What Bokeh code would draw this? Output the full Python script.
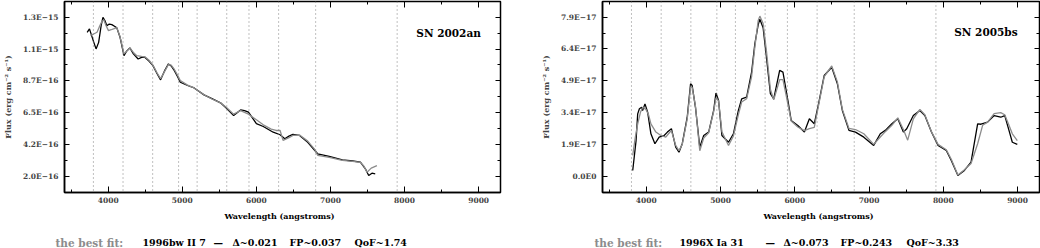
import numpy as np
from bokeh.plotting import figure
from bokeh.layouts import row, column
from bokeh.models import Range1d, FixedTicker, LinearAxis, Span, Label
from bokeh.embed import file_html
from bokeh.resources import INLINE

# ---------------- data ----------------
# SN 2002an (flux in units of 1e-16 erg cm^-2 s^-1 A^-1)
wl_2002an = [3716, 3747, 3800, 3836, 3871, 3905, 3929, 3955, 3982, 4015, 4049, 4085, 4116, 4160,
             4213, 4250, 4293, 4340, 4404, 4450, 4493, 4550, 4604, 4660, 4707, 4760, 4813, 4850,
             4893, 4935, 4973, 5071, 5160, 5293, 5400, 5516, 5600, 5693, 5787, 5840, 5893, 6000,
             6093, 6227, 6320, 6383, 6440, 6493, 6583, 6693, 6827, 6983, 7160, 7300, 7404, 7471,
             7516, 7560, 7604]
flux_2002an = [12.12, 12.36, 11.5, 10.95, 11.41, 12.6, 13.17, 12.95, 12.59, 12.7, 12.66, 12.55, 12.43, 11.77,
               10.48, 10.8, 11.02, 10.6, 10.24, 10.35, 10.36, 10.1, 9.77, 9.2, 8.77, 9.4, 9.89, 9.75,
               9.42, 9.0, 8.6, 8.37, 8.2, 7.71, 7.45, 7.15, 6.75, 6.25, 6.65, 6.6, 6.49, 5.69,
               5.48, 5.08, 4.9, 4.61, 4.8, 4.92, 4.85, 4.37, 3.56, 3.37, 3.13, 3.05, 2.97, 2.5,
               2.03, 2.19, 2.15]
wl_1996bw = [3760, 3804, 3849, 3880, 3916, 3940, 3970, 4004, 4040, 4071, 4116, 4160, 4213, 4260,
             4293, 4340, 4382, 4450, 4500, 4550, 4604, 4660, 4707, 4760, 4813, 4850, 4893, 4935,
             4973, 5071, 5160, 5293, 5400, 5516, 5600, 5693, 5787, 5893, 6000, 6093, 6200, 6267,
             6320, 6360, 6440, 6493, 6583, 6693, 6790, 6827, 6983, 7160, 7300, 7404, 7450, 7493,
             7550, 7627]
flux_1996bw = [11.9, 12.0, 12.12, 12.5, 12.89, 13.0, 12.6, 12.24, 12.3, 12.36, 12.45, 11.8, 10.6, 10.85,
               11.0, 10.7, 10.48, 10.42, 10.38, 10.15, 9.8, 9.25, 8.85, 9.35, 9.85, 9.8, 9.5, 9.1,
               8.72, 8.4, 8.2, 7.72, 7.42, 7.15, 6.8, 6.35, 6.6, 6.35, 5.95, 5.6, 5.3, 5.2,
               5.2, 4.5, 4.7, 4.85, 4.88, 4.45, 3.85, 3.45, 3.3, 3.1, 3.02, 2.95, 2.7, 2.26,
               2.55, 2.73]

# SN 2005bs (flux in units of 1e-17)
wl_2005bs = [3817, 3862, 3884, 3907, 3937, 3950, 3982, 4018, 4062, 4116, 4173, 4240, 4284, 4338,
             4396, 4440, 4484, 4551, 4596, 4617, 4662, 4720, 4773, 4840, 4907, 4938, 4973, 5018,
             5107, 5173, 5240, 5284, 5351, 5418, 5462, 5507, 5529, 5573, 5618, 5671, 5716, 5796,
             5840, 5907, 5951, 6040, 6129, 6196, 6262, 6329, 6396, 6497, 6573, 6640, 6729, 6817,
             6929, 7062, 7151, 7218, 7307, 7387, 7462, 7507, 7596, 7684, 7751, 7840, 7929, 8040,
             8107, 8196, 8284, 8373, 8462, 8507, 8596, 8684, 8773, 8827, 8884, 8929, 8996]
flux_2005bs = [0.67, 2.08, 3.34, 3.58, 3.65, 3.5, 3.81, 3.42, 2.4, 1.93, 2.24, 2.32, 2.48, 2.64,
               1.77, 1.53, 1.93, 3.18, 4.76, 4.68, 3.65, 1.77, 2.32, 2.48, 3.5, 4.32, 3.97, 2.32,
               2.0, 2.4, 3.5, 4.05, 4.13, 5.31, 6.65, 7.55, 7.8, 7.4, 6.01, 4.29, 4.05, 5.39,
               5.31, 3.97, 3.03, 2.79, 2.48, 3.11, 2.87, 3.97, 5.15, 5.54, 4.76, 3.5, 2.56, 2.48,
               2.24, 1.85, 2.4, 2.56, 2.87, 3.11, 2.48, 2.64, 3.26, 3.5, 3.26, 2.48, 1.85, 1.61,
               1.14, 0.43, 0.67, 1.06, 2.87, 2.85, 2.95, 3.26, 3.18, 3.26, 2.56, 2.0, 1.9]
wl_1996X = [3817, 3850, 3884, 3920, 3951, 3995, 4030, 4062, 4129, 4196, 4262, 4310, 4338, 4396,
            4440, 4484, 4551, 4596, 4617, 4662, 4720, 4773, 4840, 4907, 4938, 4973, 5018, 5107,
            5173, 5240, 5284, 5351, 5418, 5462, 5507, 5529, 5573, 5618, 5671, 5716, 5796, 5840,
            5907, 5951, 6040, 6129, 6196, 6262, 6329, 6396, 6497, 6573, 6640, 6729, 6817, 6929,
            7062, 7151, 7218, 7307, 7387, 7462, 7520, 7596, 7684, 7751, 7840, 7929, 8040, 8107,
            8196, 8284, 8373, 8462, 8529, 8596, 8684, 8773, 8827, 8884, 8929, 8996]
flux_1996X = [1.38, 2.2, 2.87, 3.4, 3.65, 3.55, 3.3, 2.87, 2.48, 2.32, 2.24, 2.45, 2.55, 1.85,
              1.6, 1.9, 3.1, 4.6, 4.6, 3.7, 1.6, 2.2, 2.45, 3.45, 4.1, 3.95, 2.5, 1.85,
              2.3, 3.3, 3.9, 4.05, 5.1, 6.5, 7.75, 7.95, 7.6, 6.3, 4.5, 4.0, 4.95, 4.95,
              3.8, 3.0, 2.72, 2.55, 2.64, 2.7, 3.9, 5.1, 5.6, 4.85, 3.55, 2.65, 2.6, 2.4,
              1.9, 2.25, 2.5, 2.8, 3.15, 2.6, 2.1, 3.1, 3.55, 3.3, 2.5, 1.9, 1.65, 1.2,
              0.45, 0.7, 1.0, 1.93, 2.8, 2.95, 3.35, 3.4, 3.3, 2.8, 2.4, 2.08]

# marker wavelengths (dotted lines)
line_wavelengths = [3800, 4200, 4600, 4950, 5200, 5600, 5900, 6300, 6800, 7900]

x_ticks = [4000, 5000, 6000, 7000, 8000, 9000]
x_minor = [3500, 4500, 5500, 6500, 7500, 8500]

y_ticks_a = [1.98, 4.22, 6.46, 8.70, 10.94, 13.18]
y_labels_a = ["2.0E\u221216", "4.2E\u221216", "6.5E\u221216", "8.7E\u221216", "1.1E\u221215", "1.3E\u221215"]
y_minor_a = [0.86, 3.10, 5.34, 7.58, 9.82, 12.06]

y_ticks_b = [0.4, 1.9, 3.4, 4.9, 6.4, 7.9]
y_labels_b = ["0.0E0", "1.9E\u221217", "3.4E\u221217", "4.9E\u221217", "6.4E\u221217", "7.9E\u221217"]
y_minor_b = [-0.35, 1.15, 2.65, 4.15, 5.65, 7.15]

fit_a = ["1996bw II 7", "\u2014", "\u0394~0.021", "FP~0.037", "QoF~1.74"]
fit_b = ["1996X Ia 31", "\u2014", "\u0394~0.073", "FP~0.243", "QoF~3.33"]

X_TITLE = "Wavelength (angstroms)"
Y_TITLE = "Flux (erg cm\u207b\u00b2 s\u207b\u00b9)"

FONT = "DejaVu Serif"
GRAY = "#8c8c8c"
TOP_H = 206
TEXT_H = 42
BL = 59   # left border of each spectrum panel


def panel(width, min_right, obs, tmp, yr, yt, yl, ym, name, name_xy):
    p = figure(width=width, height=TOP_H, output_backend="svg", toolbar_location=None,
               x_range=Range1d(3410, 9295), y_range=Range1d(*yr),
               min_border_left=BL, min_border_right=min_right,
               min_border_top=1, min_border_bottom=14,
               y_axis_label=Y_TITLE)
    p.grid.visible = False
    p.outline_line_color = "black"
    p.outline_line_width = 1.5

    xt = FixedTicker(ticks=x_ticks, minor_ticks=x_minor)
    ytk = FixedTicker(ticks=yt, minor_ticks=ym)

    for ax, tk in ((p.xaxis[0], xt), (p.yaxis[0], ytk)):
        ax.ticker = tk
        ax.major_tick_in = 5
        ax.major_tick_out = 0
        ax.minor_tick_in = 3
        ax.minor_tick_out = 0
        ax.axis_line_width = 1.5
        ax.major_label_text_font = FONT
        ax.major_label_text_font_style = "bold"
        ax.major_label_text_font_size = "7.5px"
        ax.axis_label_text_font = FONT
        ax.axis_label_text_font_style = "bold"
        ax.axis_label_text_font_size = "8px"
    p.xaxis[0].major_tick_in = 6
    p.xaxis[0].major_label_standoff = 4
    p.yaxis[0].major_label_standoff = 6
    p.yaxis[0].axis_label_standoff = 7
    p.yaxis[0].major_label_overrides = {v: s for v, s in zip(yt, yl)}

    # mirrored ticks on top and right (labels not drawn)
    for loc, tk in (("above", xt), ("right", ytk)):
        ax = LinearAxis(ticker=tk, major_tick_in=6 if loc == "above" else 5, major_tick_out=0,
                        minor_tick_in=3, minor_tick_out=0, major_label_text_font_size="1px",
                        major_label_text_color=None, major_label_standoff=0,
                        axis_line_color=None)
        p.add_layout(ax, loc)

    for w in line_wavelengths:
        p.add_layout(Span(location=w, dimension="height", line_color="#808080",
                          line_dash="1 3", line_width=1))

    p.line(obs[0], obs[1], line_color="black", line_width=1.3)
    p.line(tmp[0], tmp[1], line_color=GRAY, line_width=1.3)

    p.add_layout(Label(x=name_xy[0], y=name_xy[1], text=name, text_align="right",
                       text_baseline="middle", text_font=FONT, text_font_style="bold",
                       text_font_size="10.5px", text_color="black"))
    return p


def text_row(width, title_x, fit, fit_x):
    q = figure(width=width, height=TEXT_H, output_backend="svg", toolbar_location=None,
               x_range=Range1d(0, width), y_range=Range1d(0, TEXT_H),
               x_axis_location=None, y_axis_location=None,
               min_border=0, outline_line_color=None)
    q.grid.visible = False
    q.add_layout(Label(x=title_x, y=33, text=X_TITLE, text_align="center",
                       text_baseline="middle", text_font=FONT, text_font_style="bold",
                       text_font_size="8px", text_color="black"))
    q.add_layout(Label(x=fit_x[0], y=6, text="the best fit:",
                       text_baseline="middle", text_font=FONT, text_font_style="bold",
                       text_font_size="10.5px", text_color=GRAY))
    for s, xx in zip(fit, fit_x[1:]):
        q.add_layout(Label(x=xx, y=6, text=s, text_baseline="middle",
                           text_font=FONT, text_font_style="bold",
                           text_font_size="9.5px", text_color="black"))
    return q


p1 = panel(538, 38, (wl_2002an, flux_2002an), (wl_1996bw, flux_1996bw),
           (0.83, 14.29), y_ticks_a, y_labels_a, y_minor_a, "SN 2002an", (9030, 12.1))
p2 = panel(502, 1, (wl_2005bs, flux_2005bs), (wl_1996X, flux_1996X),
           (-0.37, 8.64), y_ticks_b, y_labels_b, y_minor_b, "SN 2005bs", (9000, 7.18))
q1 = text_row(538, BL + 220, fit_a, [55, 142, 213, 232, 289, 354])
q2 = text_row(502, BL + 221, fit_b, [56, 141, 227, 245, 302, 368])

layout = column(row(p1, p2), row(q1, q2))
open("out.html", "w").write(file_html(layout, INLINE))
